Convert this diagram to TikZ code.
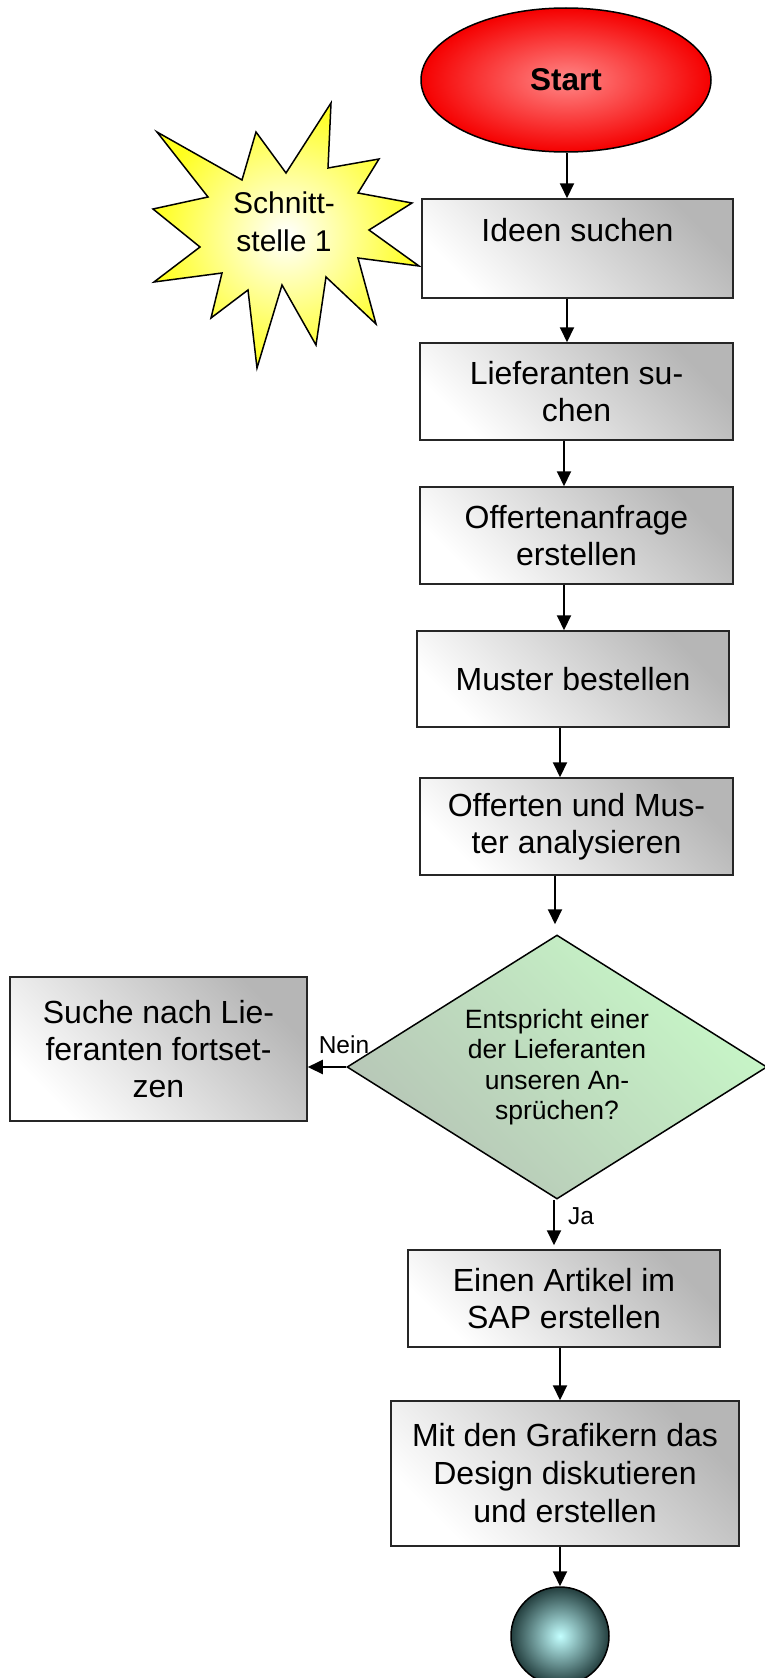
\documentclass[tikz,border=0pt]{standalone}
\usepackage{fontspec}
\setmainfont{Liberation Sans}
\usetikzlibrary{arrows.meta,shapes.geometric}
\definecolor{boxdark}{RGB}{182,182,182}
\definecolor{startin}{RGB}{255,135,135}
\definecolor{startout}{RGB}{245,0,0}
\definecolor{greenlight}{RGB}{200,248,200}
\definecolor{greendark}{RGB}{182,196,182}
\definecolor{endin}{RGB}{195,255,255}
\definecolor{endout}{RGB}{35,62,62}
\definecolor{staryellow}{RGB}{255,255,30}
\begin{document}
\begin{tikzpicture}[x=1pt,y=-1pt,
  box/.style={rectangle, draw=black!85, line width=1.5pt, top color=boxdark, bottom color=white, shading angle=-45, align=center, inner sep=0pt, font=\fontsize{32}{37}\selectfont},
  arr/.style={line width=2pt, -{Triangle[length=15pt,width=14pt]}},
  lbl/.style={font=\fontsize{24.5}{28}\selectfont, inner sep=0pt}]
\useasboundingbox (0,0) rectangle (764,1678);

% star
\path[draw=black, line width=1.5pt, inner color=white, outer color=staryellow]
 (157,132) -- (242,180) -- (256,132) -- (286,173) -- (331,103) -- (328,168)
 -- (379,159) -- (358,193) -- (412,203) -- (369,230) -- (419,266) -- (358,258)
 -- (376,324) -- (326,277) -- (316,345) -- (282,285) -- (257,368) -- (248,290)
 -- (211,318) -- (222,273) -- (154,282) -- (200,247) -- (153,209) -- (208,197) -- cycle;
\node[font=\fontsize{30}{38}\selectfont, align=center, inner sep=0pt] (star) at (284,222) {Schnitt-\\stelle 1};

\node[ellipse, draw=black, line width=1.5pt, minimum width=290pt, minimum height=144pt, inner sep=0pt,
  inner color=startin, outer color=startout, font=\bfseries\fontsize{31.5}{36}\selectfont] (start) at (566,80) {Start};

\node[box, minimum width=311pt, minimum height=99pt] (b1) at (577.5,248.5) {Ideen suchen\\~};
\node[box, minimum width=313pt, minimum height=97pt] (b2) at (576.5,391.5) {Lieferanten su-\\chen};
\node[box, minimum width=313pt, minimum height=97pt] (b3) at (576.5,535.5) {Offertenanfrage\\erstellen};
\node[box, minimum width=312pt, minimum height=96pt] (b4) at (573,679) {Muster bestellen};
\node[box, minimum width=313pt, minimum height=97pt] (b5) at (576.5,826.5) {Offerten und Mus-\\ter analysieren};
\node[box, minimum width=297pt, minimum height=144pt, font=\fontsize{32}{37}\selectfont] (b6) at (158.5,1049) {Suche nach Lie-\\feranten fortset-\\zen};

\node[diamond, draw=black, line width=1.5pt, minimum width=420pt, minimum height=264pt, aspect=1.59, inner sep=0pt,
  top color=greenlight, bottom color=greendark, shading angle=-45, align=center,
  font=\fontsize{26.5}{30.5}\selectfont] (dec) at (557,1067) {Entspricht einer\\der Lieferanten\\unseren An-\\sprüchen?};

\node[box, minimum width=312pt, minimum height=97pt] (b7) at (564,1298.5) {Einen Artikel im\\SAP erstellen};
\node[box, minimum width=348pt, minimum height=145pt, font=\fontsize{32}{38}\selectfont] (b8) at (565,1473.5) {Mit den Grafikern das\\Design diskutieren\\und erstellen};

\node[circle, draw=black, line width=1.5pt, minimum size=98pt, inner sep=0pt, inner color=endin, outer color=endout] (end) at (560,1636) {};

% connectors
\draw[arr] ([xshift=1pt]start.south) -- ([xshift=1pt]start.south |- b1.north);
\draw[arr] ([xshift=-10.5pt]b1.south) -- ([xshift=-10.5pt]b1.south |- b2.north);
\draw[arr] ([xshift=-12.5pt]b2.south) -- ([xshift=-12.5pt]b2.south |- b3.north);
\draw[arr] ([xshift=-12.5pt]b3.south) -- ([xshift=-12.5pt]b3.south |- b4.north);
\draw[arr] ([xshift=-13pt]b4.south) -- ([xshift=-13pt]b4.south |- b5.north);
\draw[arr, shorten >=10pt] ([xshift=-21.5pt]b5.south) -- ([xshift=-21.5pt]b5.south |- dec.north);
\draw[arr] (dec.west) -- (dec.west -| b6.east);
\draw[arr, shorten >=4pt] ([xshift=-3pt]dec.south) -- ([xshift=-3pt]dec.south |- b7.north);
\draw[arr] ([xshift=-4pt]b7.south) -- ([xshift=-4pt]b7.south |- b8.north);
\draw[arr] (b8.south -| end) -- (end.north);

\node[lbl] (nein) at (344,1045) {Nein};
\node[lbl] (ja) at (581,1216) {Ja};
\end{tikzpicture}
\end{document}
